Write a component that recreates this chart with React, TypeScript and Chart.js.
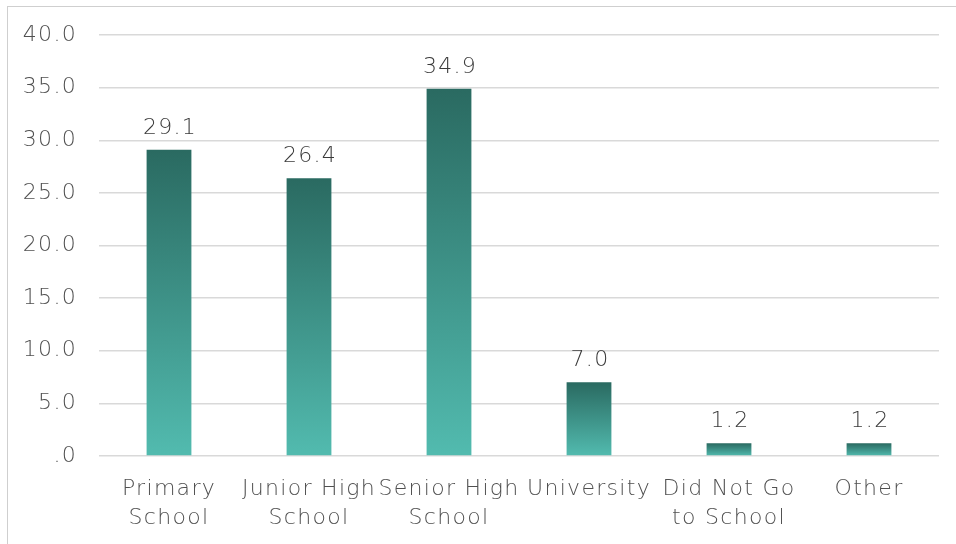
import { useEffect, useRef } from "react";
import { Chart, registerables } from "chart.js";

Chart.register(...registerables);

// Education level of respondents (%)
const categories: string[][] = [
  ["Primary", "School"],
  ["Junior High", "School"],
  ["Senior High", "School"],
  ["University"],
  ["Did Not Go", "to School"],
  ["Other"],
];
const shares: number[] = [29.1, 26.4, 34.9, 7.0, 1.2, 1.2];
const yMin = 0;
const yMax = 40;
const yStep = 5;

const FONT = "'DejaVu Sans', sans-serif";
const WEIGHT = "300";
const SIZE = 22;
const SPACING = "1.3px";
const GRID = "#d9d9d9";
const TEXT = "#505050";
const VALUE_TEXT = "#3a3a3a";
const BAR_TOP = "#2a6a61";
const BAR_BOTTOM = "#52bbaf";

const fmt = (v: number) => (v === 0 ? ".0" : v.toFixed(1));

const spacingPlugin = {
  id: "spacing",
  beforeInit(chart: any) {
    chart.ctx.letterSpacing = SPACING;
  },
  beforeUpdate(chart: any) {
    chart.ctx.letterSpacing = SPACING;
  },
};

const valueLabels = {
  id: "valueLabels",
  afterDatasetsDraw(chart: any) {
    const { ctx } = chart;
    const meta = chart.getDatasetMeta(0);
    ctx.save();
    ctx.letterSpacing = SPACING;
    ctx.font = `${WEIGHT} ${SIZE}px ${FONT}`;
    ctx.fillStyle = VALUE_TEXT;
    ctx.textAlign = "center";
    ctx.textBaseline = "alphabetic";
    meta.data.forEach((bar: any, i: number) => {
      ctx.fillText(fmt(shares[i]), bar.x + 1, bar.y - 16);
    });
    ctx.restore();
  },
};

export default function App() {
  const canvasRef = useRef<HTMLCanvasElement | null>(null);

  useEffect(() => {
    document.body.style.overflow = "hidden";
    const canvas = canvasRef.current;
    if (!canvas) return;
    const chart = new Chart(canvas, {
      type: "bar",
      data: {
        labels: categories,
        datasets: [
          {
            data: shares,
            barPercentage: 0.32,
            categoryPercentage: 1,
            backgroundColor: (c: any) => {
              const y = c.chart.scales?.y;
              if (!y || c.type !== "data") return BAR_BOTTOM;
              const top = y.getPixelForValue(c.raw as number);
              const bottom = y.getPixelForValue(0);
              if (!isFinite(top) || !isFinite(bottom) || top === bottom) return BAR_BOTTOM;
              const g = c.chart.ctx.createLinearGradient(0, top, 0, bottom);
              g.addColorStop(0, BAR_TOP);
              g.addColorStop(1, BAR_BOTTOM);
              return g;
            },
          },
        ],
      },
      options: {
        animation: false,
        responsive: true,
        maintainAspectRatio: false,
        layout: { padding: { top: 27, right: 17, left: 0, bottom: 0 } },
        plugins: {
          legend: { display: false },
          tooltip: { enabled: false },
        },
        scales: {
          x: {
            grid: { display: false },
            border: { display: false },
            ticks: {
              autoSkip: false,
              maxRotation: 0,
              minRotation: 0,
              padding: 11,
              color: TEXT,
              font: { family: FONT, size: SIZE, weight: WEIGHT as any, lineHeight: 1.3 },
            },
            afterFit(scale: any) {
              scale.height = 88;
            },
          },
          y: {
            min: yMin,
            max: yMax,
            grid: { color: GRID, lineWidth: 1.5, drawTicks: false },
            border: { display: false },
            ticks: {
              stepSize: yStep,
              padding: 22,
              color: TEXT,
              font: { family: FONT, size: SIZE, weight: WEIGHT as any },
              callback: (v: any) => fmt(Number(v)),
            },
            afterFit(scale: any) {
              scale.width = 90;
              scale.paddingTop = 0;
              scale.paddingBottom = 0;
            },
          },
        },
      },
      plugins: [spacingPlugin, valueLabels],
    });
    return () => chart.destroy();
  }, []);

  return (
    <div
      style={{
        position: "fixed",
        left: 7,
        top: 6,
        width: 949,
        height: 538,
        boxSizing: "border-box",
        borderLeft: `1px solid #cfcfcf`,
        borderTop: `1px solid #cfcfcf`,
        background: "#fff",
        overflow: "hidden",
      }}
    >
      <div style={{ position: "absolute", left: 1, top: 1, width: 947, height: 536 }}>
        <canvas ref={canvasRef} />
      </div>
    </div>
  );
}
